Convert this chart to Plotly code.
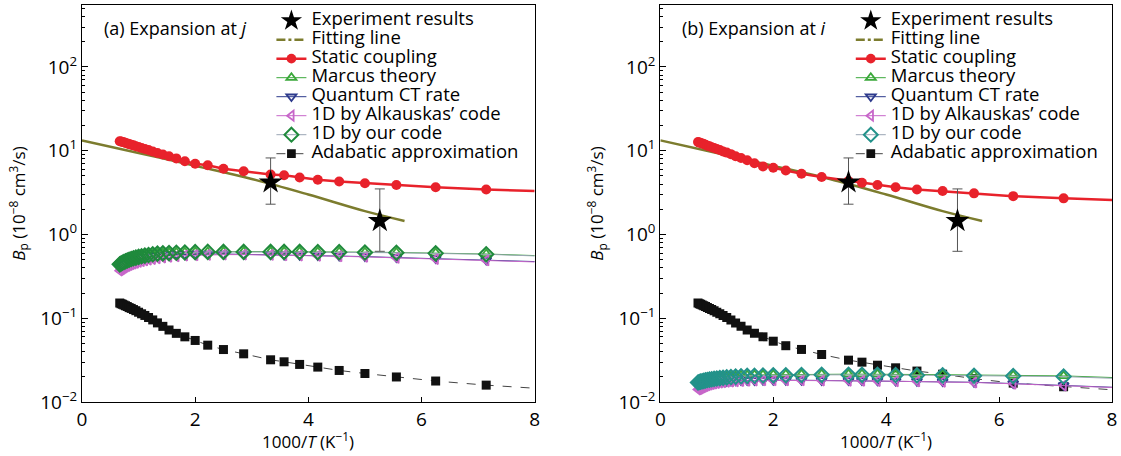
import plotly.graph_objects as go

# ---------------- data ----------------
# 1000/T values of the computed points (last value: end of the curve, no marker)
x_model = [0.667, 0.690, 0.714, 0.741, 0.769, 0.800, 0.833, 0.870, 0.909, 0.952,
           1.000, 1.053, 1.111, 1.176, 1.250, 1.333, 1.429, 1.538, 1.667, 1.818,
           2.000, 2.222, 2.500, 2.857, 3.333, 3.571, 3.846, 4.167, 4.545, 5.000,
           5.556, 6.250, 7.143, 8.000]

# panel (a) expansion at j
static_a = [13.0, 12.9, 12.7, 12.6, 12.4, 12.2, 12.0, 11.8, 11.6, 11.3,
            11.1, 10.8, 10.5, 10.2, 9.8, 9.4, 9.0, 8.6, 8.1, 7.5,
            7.0, 6.7, 6.1, 5.7, 5.2, 5.1, 4.8, 4.5, 4.3, 4.1,
            3.9, 3.67, 3.45, 3.3]
marcus_a = [0.45, 0.46, 0.47, 0.48, 0.49, 0.50, 0.51, 0.52, 0.53, 0.54,
            0.55, 0.56, 0.57, 0.58, 0.59, 0.595, 0.60, 0.605, 0.61, 0.615,
            0.62, 0.62, 0.625, 0.625, 0.625, 0.625, 0.625, 0.62, 0.62, 0.615,
            0.61, 0.60, 0.585, 0.56]
quantum_a = [0.40, 0.41, 0.42, 0.43, 0.44, 0.45, 0.46, 0.47, 0.48, 0.49,
             0.50, 0.51, 0.52, 0.53, 0.54, 0.55, 0.56, 0.57, 0.575, 0.58,
             0.585, 0.585, 0.585, 0.58, 0.575, 0.57, 0.565, 0.56, 0.555, 0.545,
             0.53, 0.515, 0.495, 0.475]
alk_a = [0.37, 0.38, 0.39, 0.40, 0.41, 0.42, 0.43, 0.44, 0.45, 0.46,
         0.47, 0.48, 0.49, 0.50, 0.51, 0.52, 0.53, 0.54, 0.55, 0.56,
         0.565, 0.57, 0.575, 0.575, 0.57, 0.565, 0.56, 0.555, 0.55, 0.54,
         0.525, 0.51, 0.49, 0.47]
our_a = [0.44, 0.45, 0.46, 0.47, 0.48, 0.49, 0.50, 0.51, 0.52, 0.53,
         0.54, 0.55, 0.56, 0.57, 0.58, 0.59, 0.595, 0.60, 0.605, 0.61,
         0.615, 0.62, 0.62, 0.62, 0.62, 0.62, 0.62, 0.615, 0.615, 0.61,
         0.605, 0.595, 0.58, 0.555]
adiab_a = [0.152, 0.149, 0.147, 0.144, 0.141, 0.138, 0.134, 0.131, 0.127, 0.123,
           0.118, 0.113, 0.108, 0.102, 0.0955, 0.088, 0.080, 0.0724, 0.066, 0.060,
           0.0543, 0.0477, 0.0423, 0.0376, 0.0319, 0.0302, 0.0281, 0.0261, 0.0238, 0.0219,
           0.0199, 0.0178, 0.0159, 0.0146]

# panel (b) expansion at i
static_b = [12.7, 12.5, 12.4, 12.2, 12.0, 11.8, 11.5, 11.3, 11.0, 10.8,
            10.5, 10.2, 9.8, 9.5, 9.1, 8.6, 8.2, 7.7, 7.1, 6.5,
            6.25, 5.8, 5.3, 4.85, 4.35, 4.14, 3.9, 3.67, 3.45, 3.3,
            3.1, 2.87, 2.70, 2.58]
marcus_b = [0.0175, 0.0177, 0.0179, 0.0181, 0.0183, 0.0185, 0.0187, 0.0189, 0.0191, 0.0193,
            0.0195, 0.0197, 0.0199, 0.0201, 0.0203, 0.0205, 0.0207, 0.0209, 0.0210, 0.0211,
            0.0212, 0.0213, 0.0214, 0.0215, 0.0215, 0.0215, 0.0215, 0.0214, 0.0213, 0.0212,
            0.0210, 0.0208, 0.0205, 0.0196]
quantum_b = [0.0155, 0.0157, 0.0159, 0.0161, 0.0163, 0.0165, 0.0167, 0.0169, 0.0171, 0.0172,
             0.0174, 0.0175, 0.0176, 0.0177, 0.0178, 0.0179, 0.0180, 0.0181, 0.0181, 0.0182,
             0.0182, 0.0182, 0.0182, 0.0181, 0.0180, 0.0180, 0.0179, 0.0178, 0.0177, 0.0175,
             0.0172, 0.0166, 0.0158, 0.0150]
alk_b = [0.0141, 0.0143, 0.0146, 0.0149, 0.0152, 0.0155, 0.0158, 0.0161, 0.0164, 0.0166,
         0.0168, 0.0170, 0.0172, 0.0174, 0.0175, 0.0177, 0.0178, 0.0179, 0.0180, 0.0181,
         0.0181, 0.0181, 0.0181, 0.0180, 0.0179, 0.0179, 0.0178, 0.0177, 0.0176, 0.0174,
         0.0171, 0.0165, 0.0157, 0.0149]
our_b = [0.0171, 0.0173, 0.0175, 0.0177, 0.0179, 0.0181, 0.0183, 0.0185, 0.0187, 0.0189,
         0.0191, 0.0193, 0.0195, 0.0197, 0.0199, 0.0201, 0.0203, 0.0205, 0.0206, 0.0207,
         0.0208, 0.0209, 0.0210, 0.0211, 0.0211, 0.0211, 0.0211, 0.0210, 0.0209, 0.0208,
         0.0206, 0.0204, 0.0201, 0.0192]
adiab_b = [0.152, 0.149, 0.147, 0.144, 0.141, 0.138, 0.134, 0.131, 0.127, 0.123,
           0.118, 0.113, 0.108, 0.102, 0.0955, 0.088, 0.080, 0.0724, 0.066, 0.060,
           0.0532, 0.0470, 0.0424, 0.0369, 0.0316, 0.0299, 0.0275, 0.0256, 0.0234, 0.0215,
           0.0190, 0.0168, 0.0152, 0.0140]

# fitting line and experiments (same in both panels)
fit_x = [0.0, 1.0, 2.0, 3.0, 4.0, 5.0, 5.7]
fit_y = [13.3, 9.4, 6.6, 4.6, 3.0, 1.9, 1.45]
exp_x = [3.333, 5.263]
exp_y = [4.2, 1.45]
exp_err_plus = [4.0, 2.05]
exp_err_minus = [1.9, 0.82]

y_tickvals = [0.01, 0.1, 1, 10, 100]
y_ticktext = ["10<sup>−2</sup>", "10<sup>−1</sup>", "10<sup>0</sup>", "10<sup>1</sup>", "10<sup>2</sup>"]
x_tickvals = [0, 2, 4, 6, 8]
x_title = "1000/<i>T</i> (K<sup>−1</sup>)"
y_title = "<i>B</i><sub>p</sub> (10<sup>−8</sup> cm<sup>3</sup>/s)"
panel_titles = ["(a) Expansion at <i>j</i>", "(b) Expansion at <i>i</i>"]
legend_names = ["Experiment results", "Fitting line", "Static coupling", "Marcus theory",
                "Quantum CT rate", "1D by Alkauskas’ code", "1D by our code",
                "Adabatic approximation"]

# ---------------- styles ----------------
FONT = "Open Sans"
RED = "#e8222b"
OLIVE = "#7c7c2e"
GREEN = "#3aa83a"
NAVY = "#2d3a8c"
PINK = "#c766c9"


def nm(s):
    return f'<span style="font-size:18.5px">{s}</span>'


n = len(x_model)
sizes_big = [10] * (n - 1) + [0]
sizes_open = [9] * (n - 1) + [0]
sizes_diam = [11] * (n - 1) + [0]

fig = go.Figure()

panels = [
    dict(xa="x", ya="y", leg="legend", static=static_a, marcus=marcus_a, quantum=quantum_a,
         alk=alk_a, our=our_a, adiab=adiab_a, ourcol="#1f8a3c"),
    dict(xa="x2", ya="y2", leg="legend2", static=static_b, marcus=marcus_b, quantum=quantum_b,
         alk=alk_b, our=our_b, adiab=adiab_b, ourcol="#23928a"),
]


def open_marker(symbol, sizes, color, width=1.8):
    return dict(symbol=symbol, size=sizes, color=color, opacity=1,
                line=dict(width=width, color=color))


for p in panels:
    common = dict(xaxis=p["xa"], yaxis=p["ya"], legend=p["leg"])
    # Adiabatic approximation
    fig.add_trace(go.Scatter(
        x=x_model, y=p["adiab"], mode="lines+markers", name=nm(legend_names[7]), legendrank=8,
        line=dict(color="#444444", width=1, dash="dash"),
        marker=dict(symbol="square", size=sizes_open, color="#111111", opacity=1,
                    line=dict(width=0)), **common))
    # Marcus theory
    fig.add_trace(go.Scatter(
        x=x_model, y=p["marcus"], mode="lines+markers", name=nm(legend_names[3]), legendrank=4,
        line=dict(color=GREEN, width=1),
        marker=open_marker("triangle-up-open", sizes_open, GREEN), **common))
    # Quantum CT rate
    fig.add_trace(go.Scatter(
        x=x_model, y=p["quantum"], mode="lines+markers", name=nm(legend_names[4]), legendrank=5,
        line=dict(color=NAVY, width=1),
        marker=open_marker("triangle-down-open", sizes_open, NAVY), **common))
    # 1D by Alkauskas' code
    fig.add_trace(go.Scatter(
        x=x_model, y=p["alk"], mode="lines+markers", name=nm(legend_names[5]), legendrank=6,
        line=dict(color=PINK, width=1),
        marker=open_marker("triangle-left-open", sizes_open, PINK), **common))
    # 1D by our code
    fig.add_trace(go.Scatter(
        x=x_model, y=p["our"], mode="lines+markers", name=nm(legend_names[6]), legendrank=7,
        line=dict(color="#9aa6b4", width=1),
        marker=open_marker("diamond-open", sizes_diam, p["ourcol"], 2), **common))
    # Fitting line (plotted) + legend sample
    fig.add_trace(go.Scatter(
        x=fit_x, y=fit_y, mode="lines", showlegend=False, line_shape="spline",
        line=dict(color=OLIVE, width=2.5), **common))
    fig.add_trace(go.Scatter(
        x=[None], y=[None], mode="lines", name=nm(legend_names[1]), legendrank=2,
        line=dict(color=OLIVE, width=2.5, dash="dashdot"), **common))
    # Static coupling
    fig.add_trace(go.Scatter(
        x=x_model, y=p["static"], mode="lines+markers", name=nm(legend_names[2]), legendrank=3,
        line=dict(color=RED, width=2.5),
        marker=dict(symbol="circle", size=sizes_big, color=RED, opacity=1,
                    line=dict(width=0)), **common))
    # Experiment results
    fig.add_trace(go.Scatter(
        x=exp_x, y=exp_y, mode="markers", name=nm(legend_names[0]), legendrank=1,
        marker=dict(symbol="star", size=18, color="black", line=dict(width=0)),
        error_y=dict(type="data", symmetric=False, array=exp_err_plus,
                     arrayminus=exp_err_minus, color="#555555", thickness=1, width=5),
        **common))

minor_vals = [m * 10 ** e for e in range(-2, 3) for m in range(2, 10)]

xaxis_common = dict(range=[0, 8], showgrid=False, zeroline=False, showline=True,
                    linecolor="black", linewidth=1.2, mirror=True, ticks="inside",
                    ticklen=5, tickcolor="black", tickvals=x_tickvals,
                    tickfont=dict(family=FONT, size=19, color="black"))
yaxis_common = dict(type="log", range=[-2, 2.74], showgrid=False, zeroline=False,
                    showline=True, linecolor="black", linewidth=1.2, mirror=True,
                    ticks="inside", ticklen=6, tickcolor="black",
                    tickvals=y_tickvals, ticktext=y_ticktext,
                    tickfont=dict(family=FONT, size=19, color="black"),
                    minor=dict(ticks="inside", ticklen=3, tickcolor="black",
                               tickvals=minor_vals, showgrid=False),
                    title=dict(text=y_title, standoff=10,
                               font=dict(family=FONT, size=17, color="black")))

legend_common = dict(yanchor="top", y=0.997, xanchor="left", bgcolor="rgba(0,0,0,0)",
                     borderwidth=0, font=dict(family=FONT, size=12, color="black"),
                     tracegroupgap=0, itemclick=False)

annotations = []
for i, (xa, ya) in enumerate([("x", "y"), ("x2", "y2")]):
    annotations.append(dict(text=panel_titles[i], xref=f"{xa} domain", yref=f"{ya} domain",
                            x=0.044, y=0.942, xanchor="left", yanchor="middle",
                            showarrow=False, font=dict(family=FONT, size=18, color="black")))
    annotations.append(dict(text=x_title, xref=f"{xa} domain", yref=f"{ya} domain",
                            x=0.5, y=-0.098, xanchor="center", yanchor="middle",
                            showarrow=False, font=dict(family=FONT, size=17, color="black")))

fig.update_layout(
    width=1121, height=456,
    margin=dict(l=82, r=6, t=4, b=54),
    paper_bgcolor="white", plot_bgcolor="white",
    font=dict(family=FONT, color="black"),
    xaxis=dict(domain=[0, 0.4395], anchor="y", **xaxis_common),
    yaxis=dict(anchor="x", **yaxis_common),
    xaxis2=dict(domain=[0.5615, 1.0], anchor="y2", **xaxis_common),
    yaxis2=dict(anchor="x2", **yaxis_common),
    legend=dict(x=0.1839, **legend_common),
    legend2=dict(x=0.7464, **legend_common),
    annotations=annotations,
)

fig.write_html("out.html", config={"displayModeBar": False},
               post_script="document.body.style.margin='0';document.body.style.overflow='hidden';")
